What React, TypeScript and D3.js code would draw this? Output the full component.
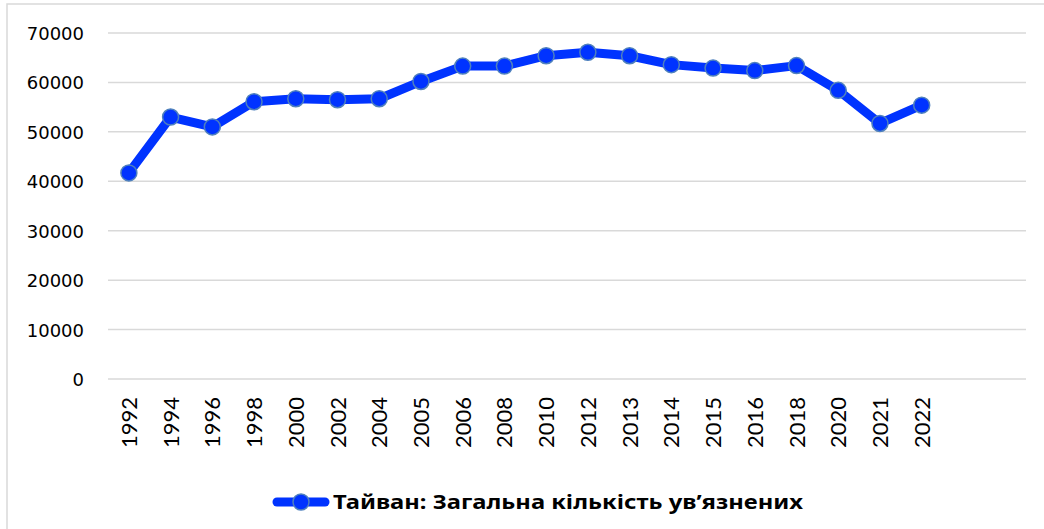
import React from "react";
import * as d3 from "d3";

const years = [
  "1992", "1994", "1996", "1998", "2000", "2002", "2004", "2005", "2006", "2008",
  "2010", "2012", "2013", "2014", "2015", "2016", "2018", "2020", "2021", "2022",
];
const prisoners = [
  41700, 53000, 51000, 56100, 56700, 56500, 56700, 60200, 63300, 63300,
  65400, 66100, 65400, 63600, 62900, 62400, 63400, 58400, 51700, 55400,
];
const yTicks = [0, 10000, 20000, 30000, 40000, 50000, 60000, 70000];
const seriesName = "Тайван: Загальна кількість ув’язнених";

const W = 1044;
const H = 529;
// the category axis leaves room for 22 slots, the last two empty
const slotCount = 22;
const plot = { left: 108, right: 1026, top: 33, bottom: 379 };
const BLUE = "#0033ff";
const MARKER_EDGE = "#4f81bd";

const App = () => {
  const step = (plot.right - plot.left) / slotCount;
  const x = d3
    .scaleBand<string>()
    .domain(years)
    .range([plot.left, plot.left + step * years.length])
    .padding(0);
  const y = d3.scaleLinear().domain([0, 70000]).range([plot.bottom, plot.top]);

  const cx = (yr: string) => (x(yr) ?? 0) + x.bandwidth() / 2;
  const pts = years.map((yr, i) => ({ yr, v: prisoners[i] }));

  const line = d3
    .line<{ yr: string; v: number }>()
    .x((d) => cx(d.yr))
    .y((d) => y(d.v));

  return (
    <svg
      width={W}
      height={H}
      style={{ position: "absolute", left: 0, top: 0, background: "#fff" }}
    >
      <rect x={7} y={4} width={1100} height={600} fill="#fff" stroke="#d9d9d9" strokeWidth={1.5} />

      {yTicks.map((t) => (
        <g key={t}>
          <line
            x1={plot.left}
            x2={plot.right}
            y1={y(t)}
            y2={y(t)}
            stroke="#d9d9d9"
            strokeWidth={1.5}
          />
          <text
            x={84}
            y={y(t) + 7}
            textAnchor="end"
            fontFamily="DejaVu Sans"
            fontSize={18}
            fill="#000"
          >
            {t}
          </text>
        </g>
      ))}

      {years.map((yr) => (
        <text
          key={yr}
          transform={`translate(${cx(yr) + 8},397) rotate(-90)`}
          textAnchor="end"
          fontFamily="Lato"
          fontSize={22}
          fill="#000"
        >
          {yr}
        </text>
      ))}

      <path
        d={line(pts) ?? ""}
        fill="none"
        stroke={BLUE}
        strokeWidth={9}
        strokeLinejoin="round"
        strokeLinecap="round"
      />
      {pts.map((d) => (
        <circle
          key={d.yr}
          cx={cx(d.yr)}
          cy={y(d.v)}
          r={8}
          fill={BLUE}
          stroke={MARKER_EDGE}
          strokeWidth={1.5}
        />
      ))}

      <g>
        <line x1={277} x2={325} y1={502} y2={502} stroke={BLUE} strokeWidth={9} strokeLinecap="round" />
        <circle cx={301} cy={502} r={8} fill={BLUE} stroke={MARKER_EDGE} strokeWidth={1.5} />
        <text
          x={333}
          y={509}
          fontFamily="Noto Sans"
          fontWeight="bold"
          fontSize={20}
          textLength={470}
          lengthAdjust="spacingAndGlyphs"
          fill="#000"
        >
          {seriesName}
        </text>
      </g>
    </svg>
  );
};

export default App;
